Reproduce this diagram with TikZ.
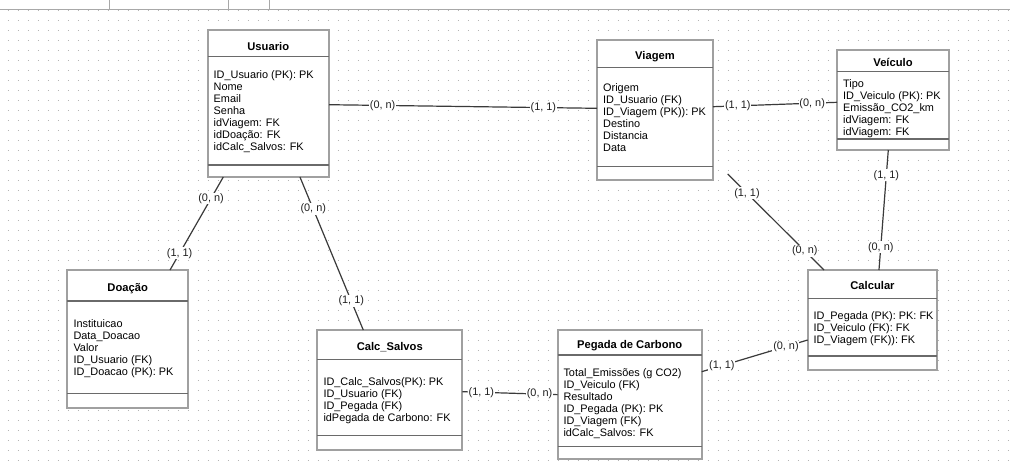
\documentclass[tikz,border=0pt]{standalone}
\usepackage{fontspec}
\setmainfont{Liberation Sans}
\usetikzlibrary{calc}
\definecolor{gridc}{HTML}{B4B4B4}
\definecolor{boxc}{HTML}{A0A0A0}
\definecolor{sepc}{HTML}{6A6A6A}
\definecolor{connc}{HTML}{3A3A3A}
\definecolor{chromec}{HTML}{A8A8A8}
\definecolor{cardc}{HTML}{202020}
\begin{document}
\begin{tikzpicture}[x=1pt,y=-1pt,
  ebox/.style={draw=boxc, line width=2pt, fill=white, inner sep=0pt, outer sep=0pt, anchor=north west},
  sepl/.style={draw=sepc, line width=1.3pt},
  ttl/.style={font=\fontsize{11.2}{12}\selectfont\bfseries, anchor=base, inner sep=0pt},
  attr/.style={font=\fontsize{10.9}{12}\selectfont, align=left, anchor=north west, inner sep=0pt},
  card/.style={font=\fontsize{10.9}{12}\selectfont, fill=white, inner sep=0.8pt, text=cardc},
  conn/.style={draw=connc, line width=1.2pt},
  chrome/.style={draw=chromec, line width=1pt}]
\useasboundingbox (0,0) rectangle (1010,467);
\fill[white] (0,0) rectangle (1010,467);
% dotted grid
\foreach \r in {0,...,45}
  \draw[gridc, line width=1pt, dash pattern=on 1pt off 9pt] (7.8,10.5+10*\r) -- (1010,10.5+10*\r);
% top chrome
\draw[chrome] (0,9.3) -- (1010,9.3);
\draw[chrome] (109.7,0) -- (109.7,9.3);
\draw[chrome] (228.7,0) -- (228.7,9.3);
\draw[chrome] (269.3,0) -- (269.3,9.3);

% ---------- Usuario
\node[ebox, minimum width=121.5pt, minimum height=147pt] (usr) at (207.5,30) {};
\draw[sepl] ([yshift=-26.7pt]usr.north west) -- ([yshift=-26.7pt]usr.north east);
\draw[sepl] ([yshift=12pt]usr.south west) -- ([yshift=12pt]usr.south east);
\node[ttl] (usr-t) at (268.25,50) {Usuario};
\node[attr] (usr-a) at (213.5,69) {\rule{0pt}{9pt}ID\_Usuario (PK): PK\\Nome\\Email\\Senha\\idViagem: FK\\idDoação: FK\\idCalc\_Salvos: FK};

% ---------- Viagem
\node[ebox, minimum width=116pt, minimum height=140pt] (via) at (597,40) {};
\draw[sepl] ([yshift=-27.7pt]via.north west) -- ([yshift=-27.7pt]via.north east);
\draw[sepl] ([yshift=13.3pt]via.south west) -- ([yshift=13.3pt]via.south east);
\node[ttl] (via-t) at (655,59.5) {Viagem};
\node[attr] (via-a) at (603,82.7) {\rule{0pt}{9pt}Origem\\ID\_Usuario (FK)\\ID\_Viagem (PK)): PK\\Destino\\Distancia\\Data};

% ---------- Veiculo
\node[ebox, minimum width=112pt, minimum height=100pt] (veh) at (837,50) {};
\draw[sepl] ([yshift=-21.7pt]veh.north west) -- ([yshift=-21.7pt]veh.north east);
\draw[sepl] ([yshift=11pt]veh.south west) -- ([yshift=11pt]veh.south east);
\node[ttl] (veh-t) at (893,66) {Veículo};
\node[attr] (veh-a) at (843,78.3) {\rule{0pt}{9pt}Tipo\\ID\_Veiculo (PK): PK\\Emissão\_CO2\_km\\idViagem: FK\\idViagem: FK};

% ---------- Doacao
\node[ebox, minimum width=120.7pt, minimum height=138pt] (don) at (67.3,270) {};
\draw[sepl] ([yshift=-31pt]don.north west) -- ([yshift=-31pt]don.north east);
\draw[sepl] ([yshift=14.7pt]don.south west) -- ([yshift=14.7pt]don.south east);
\node[ttl] (don-t) at (127.65,291) {Doação};
\node[attr] (don-a) at (73.3,318.3) {\rule{0pt}{9pt}Instituicao\\Data\_Doacao\\Valor\\ID\_Usuario (FK)\\ID\_Doacao (PK): PK};

% ---------- Calc_Salvos
\node[ebox, minimum width=145pt, minimum height=120pt] (cs) at (317.3,330) {};
\draw[sepl] ([yshift=-29.3pt]cs.north west) -- ([yshift=-29.3pt]cs.north east);
\draw[sepl] ([yshift=14.3pt]cs.south west) -- ([yshift=14.3pt]cs.south east);
\node[ttl] (cs-t) at (389.8,350.5) {Calc\_Salvos};
\node[attr] (cs-a) at (323.3,376) {\rule{0pt}{9pt}ID\_Calc\_Salvos(PK): PK\\ID\_Usuario (FK)\\ID\_Pegada (FK)\\idPegada de Carbono: FK};

% ---------- Pegada de Carbono
\node[ebox, minimum width=144pt, minimum height=129.3pt] (peg) at (557.7,330) {};
\draw[sepl] ([yshift=-25pt]peg.north west) -- ([yshift=-25pt]peg.north east);
\draw[sepl] ([yshift=12.6pt]peg.south west) -- ([yshift=12.6pt]peg.south east);
\node[ttl] (peg-t) at (629.7,348.5) {Pegada de Carbono};
\node[attr] (peg-a) at (563.3,367.7) {\rule{0pt}{9pt}Total\_Emissões (g CO2)\\ID\_Veiculo (FK)\\Resultado\\ID\_Pegada (PK): PK\\ID\_Viagem (FK)\\idCalc\_Salvos: FK};

% ---------- Calcular
\node[ebox, minimum width=129.6pt, minimum height=100pt] (calc) at (807.7,270) {};
\draw[sepl] ([yshift=-28.3pt]calc.north west) -- ([yshift=-28.3pt]calc.north east);
\draw[sepl] ([yshift=14pt]calc.south west) -- ([yshift=14pt]calc.south east);
\node[ttl] (calc-t) at (872.5,289.5) {Calcular};
\node[attr] (calc-a) at (813.3,310.7) {\rule{0pt}{9pt}ID\_Pegada (PK): PK: FK\\ID\_Veiculo (FK): FK\\ID\_Viagem (FK)): FK};

% ---------- connectors
\draw[conn] ([yshift=-1.2pt]usr.east) -- node[card,pos=0.2] (c1a) {(0, n)} node[card,pos=0.8] (c1b) {(1, 1)} ([yshift=1.7pt]via.west);
\draw[conn] ($(usr.south west)!0.13!(usr.south east)$) -- node[card,pos=0.23] (c2a) {(0, n)} node[card,pos=0.82] (c2b) {(1, 1)} ($(don.north west)!0.851!(don.north east)$);
\draw[conn] ($(usr.south west)!0.761!(usr.south east)$) -- node[card,pos=0.21] (c3a) {(0, n)} node[card,pos=0.81] (c3b) {(1, 1)} ($(cs.north west)!0.317!(cs.north east)$);
\draw[conn] ([yshift=3.3pt]via.east) -- node[card,pos=0.2] (c4a) {(1, 1)} node[card,pos=0.8] (c4b) {(0, n)} ([yshift=-2.3pt]veh.west);
\coordinate (vfree) at (727.7,174);
\draw[conn] (vfree) -- node[card,pos=0.2] (c5a) {(1, 1)} node[card,pos=0.8] (c5b) {(0, n)} ($(calc.north west)!0.126!(calc.north east)$);
\draw[conn] ($(veh.south west)!0.458!(veh.south east)$) -- node[card,pos=0.21] (c6a) {(1, 1)} node[card,pos=0.81] (c6b) {(0, n)} ($(calc.north west)!0.55!(calc.north east)$);
\draw[conn] ([yshift=22.95pt]peg.east) -- node[card,pos=0.19] (c7a) {(1, 1)} node[card,pos=0.795] (c7b) {(0, n)} ([yshift=-20pt]calc.west);
\draw[conn] ([yshift=-1.7pt]cs.east) -- node[card,pos=0.2] (c8a) {(1, 1)} node[card,pos=0.81] (c8b) {(0, n)} (peg.west);
\end{tikzpicture}
\end{document}
